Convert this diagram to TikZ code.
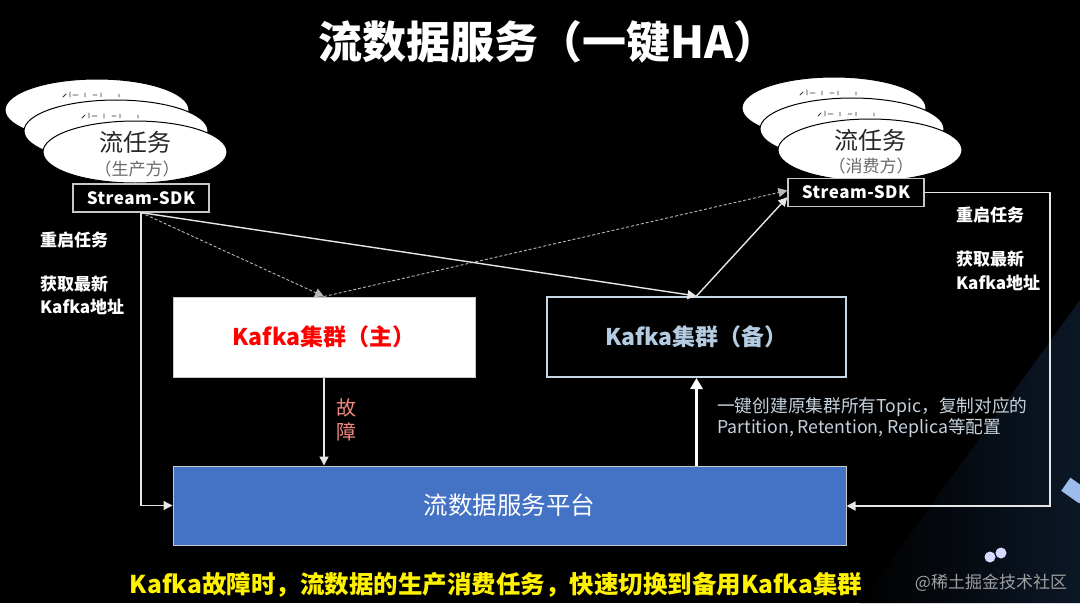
\documentclass[tikz,border=0pt]{standalone}
\usepackage{fontspec}
\setmainfont{Noto Sans CJK SC}
\usetikzlibrary{arrows.meta,shapes.geometric,calc}
\definecolor{linec}{HTML}{E6E6E6}
\definecolor{boxc}{HTML}{C8C8C8}
\definecolor{bkc}{HTML}{C5D8E4}
\definecolor{bktext}{HTML}{B4CCE2}
\definecolor{platblue}{HTML}{4472C4}
\definecolor{faultc}{HTML}{F08A80}
\definecolor{descc}{HTML}{C5D2DE}
\definecolor{subc}{HTML}{6A6A6A}
\definecolor{glow}{HTML}{0C1726}
\definecolor{blobc}{HTML}{9DBCEB}
\tikzset{
  taskell/.style={ellipse, draw=black, line width=1pt, fill=white, minimum width=184pt, minimum height=62pt, inner sep=0pt},
  tasktxt/.style={text=black!85, font=\fontsize{24}{26}\selectfont, inner sep=0pt},
  tasksub/.style={text=subc, font=\fontsize{17}{18}\selectfont, inner sep=0pt},
  sdkbox/.style={draw=boxc, line width=1.2pt, fill=black, text=white, font=\fontsize{17}{18}\selectfont\bfseries\addfontfeature{LetterSpace=3}, minimum width=136pt, minimum height=28pt, inner sep=0pt},
  sidelbl/.style={text=white, font=\fontsize{17}{20}\selectfont\bfseries, anchor=west, inner sep=0pt},
  arr/.style={draw=linec, line width=1.4pt, -{Triangle[length=9pt,width=9pt]}},
  darr/.style={draw=linec!80!black, line width=0.9pt, dash pattern=on 3pt off 2pt, -{Triangle[length=9pt,width=9pt]}},
  frag/.pic={
    \draw[black!80, line width=0.9pt, line cap=round]
      (-34,-13) -- (-31,-16)
      (-27,-18) -- (-27,-13)
      (-24,-15) -- (-19,-15)
      (-12,-17) -- (-12,-13)
      (-4,-15) -- (0,-15)
      (4,-17) -- (4,-13)
      (22,-16) -- (22,-13);
  }
}
\begin{document}
\begin{tikzpicture}[x=1pt,y=-1pt]
\useasboundingbox (0,0) rectangle (1080,603);
\fill[black] (0,0) rectangle (1080,603);
% background glow (bottom right)
\shade[left color=black, right color=glow] (1080,300) -- (1080,603) -- (860,603) -- cycle;
\fill[blobc, rotate around={-35:(1074,490)}] (1064,482) rectangle (1086,498);
\fill[white!85!blue] (990,557) circle (5.5pt);
\fill[white!85!blue] (1001,553) circle (5.5pt);

% title
\node[text=white, font=\fontsize{44}{50}\selectfont\bfseries] (title) at (548,42) {流数据服务（一键HA）};

% producer tasks
\node[taskell] (p3) at (97,110) {};
\pic at (97,110) {frag};
\node[taskell] (p2) at (116,131) {};
\pic at (116,131) {frag};
\node[taskell] (p1) at (135,152) {};
\node[tasktxt] (p1t) at (135,142) {流任务};
\node[tasksub] (p1s) at (137,169) {（生产方）};
\node[sdkbox] (sdkL) at (141,198) {Stream-SDK};

% consumer tasks
\node[taskell] (c3) at (834,108) {};
\pic at (834,108) {frag};
\node[taskell] (c2) at (852,129) {};
\pic at (852,129) {frag};
\node[taskell] (c1) at (870,150) {};
\node[tasktxt] (c1t) at (870,140) {流任务};
\node[tasksub] (c1s) at (871,166) {（消费方）};
\node[sdkbox] (sdkR) at (856,192.5) {Stream-SDK};

% side labels
\node[sidelbl] (l1) at (40,240) {重启任务};
\node[sidelbl] (l2) at (40,284) {获取最新};
\node[sidelbl] (l3) at (40,307) {Kafka地址};
\node[sidelbl] (r1) at (956,215) {重启任务};
\node[sidelbl] (r2) at (956,259) {获取最新};
\node[sidelbl] (r3) at (956,283) {Kafka地址};

% Kafka clusters
\node[draw=boxc, line width=1pt, fill=white, minimum width=302pt, minimum height=80pt, inner sep=0pt,
      text=red, font=\fontsize{23}{26}\selectfont\bfseries] (kafkaA) at (324,337) {Kafka集群（主）};
\node[draw=bkc, line width=2pt, fill=black, minimum width=299pt, minimum height=80pt, inner sep=0pt,
      text=bktext, font=\fontsize{23}{26}\selectfont\bfseries] (kafkaB) at (696.5,337) {Kafka集群（备）};

% platform
\node[draw=boxc, line width=1pt, fill=platblue, minimum width=673pt, minimum height=79pt, inner sep=0pt,
      text=white, font=\fontsize{24.5}{27}\selectfont] (plat) at (509.5,505.5) {流数据服务平台};

% fault label
\node[text=faultc, font=\fontsize{20}{22}\selectfont, align=center, inner sep=0pt] (fault) at (346,420) {故\\[2pt]障};

% description
\node[text=descc, font=\fontsize{17.7}{21}\selectfont, align=left, anchor=west, inner sep=0pt] (desc) at (717,418)
  {一键创建原集群所有Topic，复制对应的\\Partition, Retention, Replica等配置};

% bottom caption
\node[text=yellow, font=\fontsize{24.5}{27}\selectfont\bfseries, inner sep=0pt] (cap) at (496,585)
  {Kafka故障时，流数据的生产消费任务，快速切换到备用Kafka集群};
\node[text=gray!75, font=\fontsize{17}{18}\selectfont, inner sep=0pt] (wm) at (991,583) {@稀土掘金技术社区};

% connectors
\coordinate (rc) at (1050,506);
\draw[arr] (sdkL.south) |- (plat.west);
\draw[darr] (sdkL.south) -- (kafkaA.north);
\draw[darr] (kafkaA.north) -- ($(sdkR.west)+(0,-2)$);
\draw[arr] (sdkL.south) -- (kafkaB.north);
\draw[arr] (kafkaB.north) -- ($(sdkR.south west)+(0,-10)$);
\draw[arr] (kafkaA.south) -- (kafkaA.south |- plat.north);
\draw[draw=white, line width=3pt, -{Triangle[length=11pt,width=12pt]}] (kafkaB.south |- plat.north) -- (kafkaB.south);
\draw[arr] (sdkR.east) -| (rc) -- (plat.east |- rc);
\end{tikzpicture}
\end{document}
